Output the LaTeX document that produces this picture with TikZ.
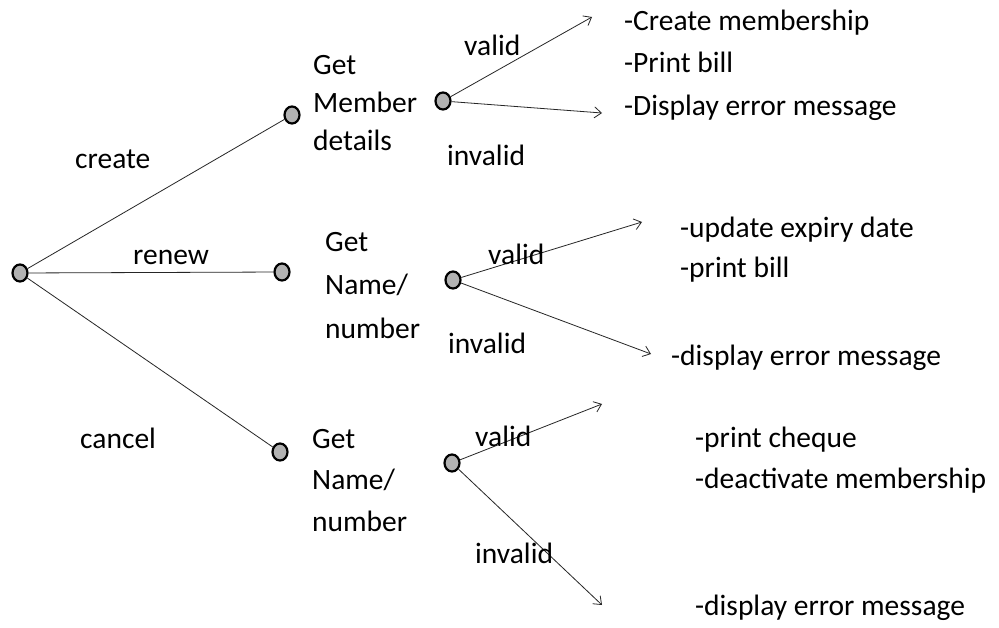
\documentclass[tikz,border=0pt]{standalone}
\usepackage{fontspec}
\setmainfont{Carlito}
\usetikzlibrary{arrows.meta,shapes.geometric}
\begin{document}
\begin{tikzpicture}[x=1pt,y=-1pt,
  dot/.style={ellipse, draw=black, line width=2.2pt, fill=gray!60, minimum width=15pt, minimum height=17pt, inner sep=0pt},
  txt/.style={font=\fontsize{29.5}{36}\selectfont, inner sep=0pt, anchor=base west},
  conn/.style={line width=0.8pt, draw=black!85},
  arr/.style={conn, -{Straight Barb[length=7pt,width=11pt]}}]
\useasboundingbox (0,0) rectangle (999,628);
\fill[white] (0,0) rectangle (999,628);
% nodes
\node[dot] (root) at (20,273) {};
\node[dot] (n1) at (292,115) {};
\node[dot] (n2) at (282,272) {};
\node[dot] (n3) at (280,452) {};
\node[dot] (d1) at (443,101) {};
\node[dot] (d2) at (453,280) {};
\node[dot] (d3) at (452,463) {};
\coordinate (a1v) at (592,17);
\coordinate (a1i) at (602,113);
\coordinate (a2v) at (642,222);
\coordinate (a2i) at (651,354);
\coordinate (a3v) at (602,404);
\coordinate (a3i) at (602,605);
% connectors
\draw[conn] (root) -- (n1);
\draw[conn] (root) -- (n2);
\draw[conn] (root) -- (n3);
\draw[arr] (d1) -- (a1v);
\draw[arr] (d1) -- (a1i);
\draw[arr] (d2) -- (a2v);
\draw[arr] (d2) -- (a2i);
\draw[arr] (d3) -- (a3v);
\draw[arr] (d3) -- (a3i);
% edge labels
\node[txt] (lcreate) at (75,169) {create};
\node[txt] (lrenew) at (133,265) {renew};
\node[txt] (lcancel) at (80,448) {cancel};
\node[txt] (v1) at (464,56) {valid};
\node[txt] (i1) at (447,166) {invalid};
\node[txt] (v2) at (488,265) {valid};
\node[txt] (i2) at (448,354) {invalid};
\node[txt] (v3) at (475,446) {valid};
\node[txt] (i3) at (475,563) {invalid};
% step texts
\node[txt] (g1a) at (313,75) {Get};
\node[txt] (g1b) at (313,113) {Member};
\node[txt] (g1c) at (313,151) {details};
\node[txt] (g2a) at (325,252) {Get};
\node[txt] (g2b) at (325,295) {Name/};
\node[txt] (g2c) at (325,338) {number};
\node[txt] (g3a) at (312,448) {Get};
\node[txt] (g3b) at (312,489) {Name/};
\node[txt] (g3c) at (312,531) {number};
% outcomes
\node[txt] (o1a) at (624,31) {-Create membership};
\node[txt] (o1b) at (624,73) {-Print bill};
\node[txt] (o1c) at (624,116) {-Display error message};
\node[txt] (o2a) at (680,238) {-update expiry date};
\node[txt] (o2b) at (680,278) {-print bill};
\node[txt] (o2c) at (671,366) {-display error message};
\node[txt] (o3a) at (695,447) {-print cheque};
\node[txt] (o3b) at (695,488) {-deactivate membership};
\node[txt] (o3c) at (695,615) {-display error message};
\end{tikzpicture}
\end{document}
